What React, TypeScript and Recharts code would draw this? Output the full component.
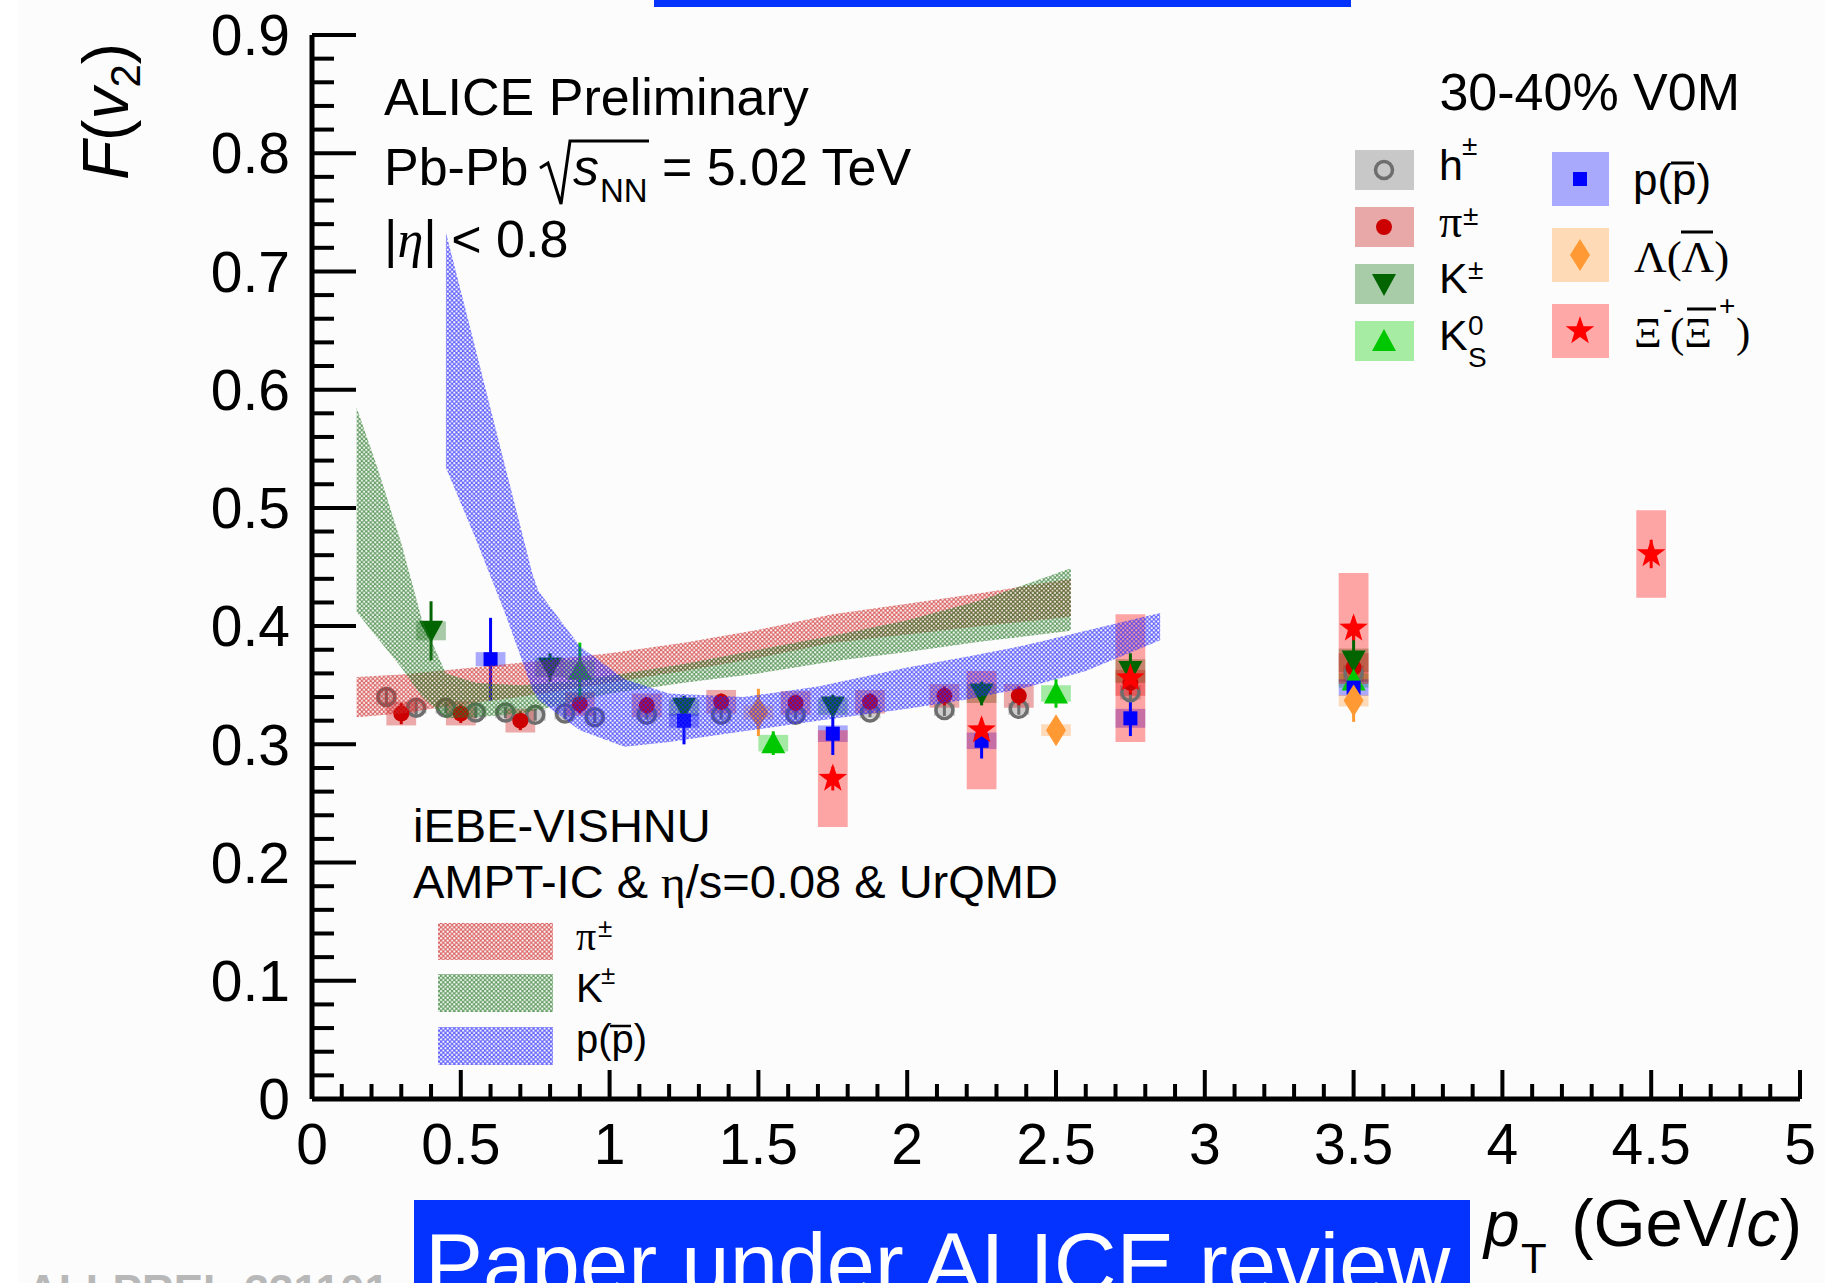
import React from 'react';
import { ComposedChart, Area, Scatter, ErrorBar, XAxis, YAxis, ReferenceArea } from 'recharts';

const W = 1825;
const H = 1283;
const FONT = '"Liberation Sans", Arial, Helvetica, sans-serif';
const SERIF = '"Liberation Serif", "DejaVu Serif", serif';
const BANNER = '#0433ff';

// ---- ALICE Preliminary F(v2) vs pT, 30-40% ----
// h±
const hPt = [0.25, 0.35, 0.45, 0.55, 0.65, 0.75, 0.85, 0.95, 1.125, 1.375, 1.625, 1.875, 2.125, 2.375, 2.75, 3.5];
const hF = [0.340, 0.331, 0.331, 0.327, 0.327, 0.325, 0.326, 0.323, 0.325, 0.325, 0.325, 0.327, 0.329, 0.330, 0.344, 0.360];
const hStat = [0.008, 0.006, 0.005, 0.005, 0.005, 0.005, 0.005, 0.005, 0.004, 0.004, 0.004, 0.004, 0.005, 0.005, 0.006, 0.008];
const hSys = [0.006, 0.005, 0.005, 0.005, 0.005, 0.005, 0.005, 0.005, 0.005, 0.005, 0.005, 0.005, 0.005, 0.005, 0.006, 0.007];

// pi±
const piPt = [0.3, 0.5, 0.7, 0.9, 1.125, 1.375, 1.625, 1.875, 2.125, 2.375, 2.75, 3.5];
const piF = [0.326, 0.326, 0.320, 0.334, 0.333, 0.336, 0.335, 0.336, 0.341, 0.341, 0.352, 0.365];
const piStat = [0.009, 0.008, 0.008, 0.008, 0.007, 0.007, 0.007, 0.007, 0.008, 0.008, 0.01, 0.012];
const piSys = [0.01, 0.01, 0.01, 0.01, 0.01, 0.01, 0.01, 0.01, 0.01, 0.01, 0.011, 0.012];

// K±
const kPt = [0.4, 0.8, 1.25, 1.75, 2.25, 2.75, 3.5];
const kF = [0.396, 0.365, 0.331, 0.332, 0.343, 0.362, 0.371];
const kStat = [0.025, 0.012, 0.01, 0.01, 0.01, 0.015, 0.025];
const kSys = [0.008, 0.008, 0.007, 0.007, 0.008, 0.01, 0.01];

// K0S
const k0Pt = [0.9, 1.55, 2.5, 3.5];
const k0F = [0.363, 0.301, 0.343, 0.354];
const k0Stat = [0.023, 0.01, 0.012, 0.015];
const k0Sys = [0.008, 0.007, 0.007, 0.006];

// p(pbar)
const pPt = [0.6, 1.25, 1.75, 2.25, 2.75, 3.5];
const pF = [0.372, 0.320, 0.309, 0.303, 0.322, 0.348];
const pStat = [0.035, 0.02, 0.018, 0.015, 0.015, 0.01];
const pSys = [0.006, 0.006, 0.007, 0.007, 0.008, 0.007];

// Lambda
const lamPt = [1.5, 2.5, 3.5];
const lamF = [0.327, 0.312, 0.337];
const lamStat = [0.02, 0.01, 0.018];
const lamSys = [0.006, 0.005, 0.005];

// Xi
const xiPt = [1.75, 2.25, 2.75, 3.5, 4.5];
const xiF = [0.271, 0.312, 0.356, 0.398, 0.461];
const xiStat = [0.01, 0.01, 0.012, 0.01, 0.012];
const xiSys = [0.041, 0.05, 0.054, 0.047, 0.037];

// iEBE-VISHNU bands
const bandPiPt = [0.15, 0.3, 0.5, 0.7, 1.0, 1.25, 1.5, 1.75, 2.0, 2.25, 2.55];
const bandPiLow = [0.323, 0.326, 0.334, 0.34, 0.352, 0.362, 0.373, 0.386, 0.393, 0.4, 0.408];
const bandPiHigh = [0.357, 0.359, 0.364, 0.369, 0.377, 0.386, 0.397, 0.41, 0.419, 0.428, 0.44];

const bandKPt = [0.15, 0.22, 0.3, 0.37, 0.45, 0.55, 0.7, 0.85, 1.0, 1.25, 1.5, 1.77, 2.0, 2.25, 2.55];
const bandKLow = [0.412, 0.39, 0.365, 0.34, 0.322, 0.323, 0.326, 0.334, 0.343, 0.352, 0.36, 0.371, 0.378, 0.387, 0.396];
const bandKHigh = [0.585, 0.534, 0.47, 0.405, 0.36, 0.352, 0.35, 0.353, 0.358, 0.368, 0.38, 0.393, 0.405, 0.422, 0.449];

const bandPPt = [0.45, 0.55, 0.65, 0.74, 0.76, 0.9, 1.05, 1.2, 1.45, 1.7, 2.0, 2.2, 2.4, 2.6, 2.85];
const bandPLow = [0.534, 0.474, 0.41, 0.347, 0.338, 0.312, 0.298, 0.302, 0.311, 0.32, 0.33, 0.338, 0.348, 0.362, 0.388];
const bandPHigh = [0.733, 0.634, 0.534, 0.445, 0.43, 0.383, 0.355, 0.343, 0.34, 0.349, 0.365, 0.374, 0.384, 0.396, 0.411];

// axes
const xMajor = [0, 0.5, 1, 1.5, 2, 2.5, 3, 3.5, 4, 4.5, 5];
const xLabels = ['0', '0.5', '1', '1.5', '2', '2.5', '3', '3.5', '4', '4.5', '5'];
const yMajor = [0, 0.1, 0.2, 0.3, 0.4, 0.5, 0.6, 0.7, 0.8, 0.9];
const yLabels = ['0', '0.1', '0.2', '0.3', '0.4', '0.5', '0.6', '0.7', '0.8', '0.9'];
const xTicks = Array.from({ length: 51 }, (_, i) => +(i * 0.1).toFixed(1));
const yTicks = Array.from({ length: 46 }, (_, i) => +(i * 0.02).toFixed(2));

const majorIndex = (list: number[], v: number) => list.findIndex((m) => Math.abs(m - v) < 1e-6);

type Kind = 'open' | 'dot' | 'down' | 'up' | 'square' | 'diamond' | 'star';

function Marker({ kind, cx, cy, color }: { kind: Kind; cx: number; cy: number; color: string }) {
  if (cx == null || cy == null) return null;
  switch (kind) {
    case 'open':
      return <circle cx={cx} cy={cy} r={8.5} fill="none" stroke={color} strokeWidth={3.5} />;
    case 'dot':
      return <circle cx={cx} cy={cy} r={8} fill={color} />;
    case 'down':
      return <polygon points={`${cx - 12},${cy - 10} ${cx + 12},${cy - 10} ${cx},${cy + 12}`} fill={color} />;
    case 'up':
      return <polygon points={`${cx - 12},${cy + 10} ${cx + 12},${cy + 10} ${cx},${cy - 12}`} fill={color} />;
    case 'square':
      return <rect x={cx - 7} y={cy - 7} width={14} height={14} fill={color} />;
    case 'diamond':
      return <polygon points={`${cx},${cy - 16} ${cx + 10},${cy} ${cx},${cy + 16} ${cx - 10},${cy}`} fill={color} />;
    case 'star': {
      const pts: string[] = [];
      for (let i = 0; i < 10; i++) {
        const r = i % 2 === 0 ? 15 : 6;
        const a = -Math.PI / 2 + (i * Math.PI) / 5;
        pts.push(`${cx + r * Math.cos(a)},${cy + r * Math.sin(a)}`);
      }
      return <polygon points={pts.join(' ')} fill={color} />;
    }
  }
  return null;
}

const SPECIES = [
  { key: 'h', pt: hPt, f: hF, stat: hStat, sys: hSys, kind: 'open' as Kind, color: '#6e6e6e', box: '#9c9c9c', boxOp: 0.5, halfW: 0.035 },
  { key: 'pi', pt: piPt, f: piF, stat: piStat, sys: piSys, kind: 'dot' as Kind, color: '#cc0000', box: '#cc0000', boxOp: 0.33, halfW: 0.05 },
  { key: 'k', pt: kPt, f: kF, stat: kStat, sys: kSys, kind: 'down' as Kind, color: '#006400', box: '#006400', boxOp: 0.33, halfW: 0.05 },
  { key: 'k0', pt: k0Pt, f: k0F, stat: k0Stat, sys: k0Sys, kind: 'up' as Kind, color: '#00c800', box: '#00c800', boxOp: 0.35, halfW: 0.05 },
  { key: 'p', pt: pPt, f: pF, stat: pStat, sys: pSys, kind: 'square' as Kind, color: '#0000ff', box: '#0000ff', boxOp: 0.33, halfW: 0.05 },
  { key: 'lam', pt: lamPt, f: lamF, stat: lamStat, sys: lamSys, kind: 'diamond' as Kind, color: '#ff9933', box: '#ff9933', boxOp: 0.33, halfW: 0.05 },
  { key: 'xi', pt: xiPt, f: xiF, stat: xiStat, sys: xiSys, kind: 'star' as Kind, color: '#ff0000', box: '#ff0000', boxOp: 0.35, halfW: 0.05 },
];

const BANDS = [
  { key: 'bandPi', pt: bandPiPt, low: bandPiLow, high: bandPiHigh, fill: 'url(#hatchRed)' },
  { key: 'bandK', pt: bandKPt, low: bandKLow, high: bandKHigh, fill: 'url(#hatchGreen)' },
  { key: 'bandP', pt: bandPPt, low: bandPLow, high: bandPHigh, fill: 'url(#hatchBlue)' },
];

const HATCH = 4.4;
const holePath = (() => {
  const hole = (cx: number, cy: number, r: number) =>
    `M${cx - r} ${cy}a${r} ${r} 0 1 0 ${2 * r} 0a${r} ${r} 0 1 0 ${-2 * r} 0Z`;
  return `M0 0H${HATCH}V${HATCH}H0Z` + hole(1.1, 1.1, 1.1) + hole(3.3, 3.3, 1.1);
})();

function Patterns() {
  const defs = [
    ['hatchRed', '#d02c2c'],
    ['hatchGreen', '#2a7a2a'],
    ['hatchBlue', '#2828ff'],
  ];
  return (
    <svg width={0} height={0} style={{ position: 'absolute' }}>
      <defs>
        {defs.map(([id, c]) => (
          <pattern key={id} id={id} patternUnits="userSpaceOnUse" width={HATCH} height={HATCH}>
            <path d={holePath} fill={c} fillOpacity={0.72} fillRule="evenodd" />
          </pattern>
        ))}
      </defs>
    </svg>
  );
}

const tickText = { fontFamily: FONT, fontSize: 57, fill: '#000' };

function BottomTick(props: any) {
  const { x, y, payload } = props;
  const mi = majorIndex(xMajor, payload.value);
  return (
    <g>
      <line x1={x} x2={x} y1={y} y2={y - (mi >= 0 ? 29 : 15)} stroke="#000" strokeWidth={4} />
      {mi >= 0 && (
        <text x={x} y={y + 25} dy="0.71em" textAnchor="middle" {...tickText}>
          {xLabels[mi]}
        </text>
      )}
    </g>
  );
}

function TopTick(props: any) {
  const { x, y, payload } = props;
  const mi = majorIndex(xMajor, payload.value);
  return <line x1={x} x2={x} y1={y} y2={y + (mi >= 0 ? 29 : 15)} stroke="#000" strokeWidth={4} />;
}

function LeftTick(props: any) {
  const { x, y, payload } = props;
  const mi = majorIndex(yMajor, payload.value);
  return (
    <g>
      <line x1={x} x2={x + (mi >= 0 ? 44 : 22)} y1={y} y2={y} stroke="#000" strokeWidth={4} />
      {mi >= 0 && (
        <text x={x - 22} y={y} dy="0.355em" textAnchor="end" {...tickText}>
          {yLabels[mi]}
        </text>
      )}
    </g>
  );
}

function RightTick(props: any) {
  const { x, y, payload } = props;
  const mi = majorIndex(yMajor, payload.value);
  return <line x1={x} x2={x - (mi >= 0 ? 44 : 22)} y1={y} y2={y} stroke="#000" strokeWidth={4} />;
}

const axisLine = { stroke: '#000', strokeWidth: 5 };

function Overlay() {
  const t = { fontFamily: FONT, fill: '#000' };
  const legL = [
    { kind: 'open' as Kind, color: '#6e6e6e', box: '#c8c8c8', cy: 170 },
    { kind: 'dot' as Kind, color: '#cc0000', box: '#e9a8a8', cy: 227 },
    { kind: 'down' as Kind, color: '#006400', box: '#a8cba8', cy: 284 },
    { kind: 'up' as Kind, color: '#00c800', box: '#a6eca2', cy: 341 },
  ];
  const legR = [
    { kind: 'square' as Kind, color: '#0000ff', box: '#a8a8fd', cy: 179 },
    { kind: 'diamond' as Kind, color: '#ff9933', box: '#fedbb6', cy: 255 },
    { kind: 'star' as Kind, color: '#ff0000', box: '#fea8a8', cy: 331 },
  ];
  return (
    <svg width={W} height={H} style={{ position: 'absolute', left: 0, top: 0, pointerEvents: 'none' }}>
      {/* banners */}
      <rect x={654} y={0} width={697} height={7} fill={BANNER} />
      <rect x={414} y={1200} width={1056} height={90} fill={BANNER} />
      <text x={425} y={1294} fontFamily={FONT} fontSize={87} fill="#fff">Paper under ALICE review</text>
      <text x={27} y={1306} fontFamily={FONT} fontSize={44} fontWeight="bold" fill="#b8b8b8">ALI-PREL-331101</text>

      {/* axis titles */}
      <text transform="translate(128,180) rotate(-90)" {...t} fontSize={64}>
        <tspan fontStyle="italic">F</tspan>
        <tspan>(</tspan>
        <tspan fontStyle="italic">v</tspan>
        <tspan fontSize={42} dy={12}>2</tspan>
        <tspan dy={-12}>)</tspan>
      </text>
      <text x={1484} y={1246} {...t} fontSize={64} fontStyle="italic">p</text>
      <text x={1521} y={1273} {...t} fontSize={42}>T</text>
      <text x={1802} y={1246} {...t} fontSize={67} textAnchor="end">
        (GeV/<tspan fontStyle="italic">c</tspan>)
      </text>

      {/* header texts */}
      <text x={384} y={115} {...t} fontSize={52}>ALICE Preliminary</text>
      <text x={384} y={185} {...t} fontSize={52}>Pb-Pb</text>
      <path d="M540 168 L548 163 L561 204 L570 141 L649 141" fill="none" stroke="#000" strokeWidth={3} />
      <text x={573} y={185} {...t} fontSize={52} fontStyle="italic">s</text>
      <text x={600} y={202} {...t} fontSize={33}>NN</text>
      <text x={662} y={185} {...t} fontSize={52}>= 5.02 TeV</text>
      <text x={384} y={257} {...t} fontSize={52}>
        |<tspan fontFamily={SERIF} fontStyle="italic">η</tspan>| &lt; 0.8
      </text>
      <text x={1740} y={110} {...t} fontSize={52} textAnchor="end">30-40% V0M</text>

      {/* data legend */}
      {legL.map((l, i) => (
        <g key={'l' + i}>
          <rect x={1355} y={l.cy - 20} width={59} height={40} fill={l.box} />
          <Marker kind={l.kind} cx={1384} cy={l.cy} color={l.color} />
        </g>
      ))}
      {legR.map((l, i) => (
        <g key={'r' + i}>
          <rect x={1552} y={l.cy - 27} width={57} height={54} fill={l.box} />
          <Marker kind={l.kind} cx={1580} cy={l.cy} color={l.color} />
        </g>
      ))}
      <text x={1439} y={180} {...t} fontSize={43}>h</text>
      <text x={1462} y={155} {...t} fontSize={28}>±</text>
      <text x={1439} y={237} {...t} fontFamily={SERIF} fontSize={46}>π</text>
      <text x={1463} y={225} {...t} fontSize={28}>±</text>
      <text x={1439} y={293} {...t} fontSize={43}>K</text>
      <text x={1468} y={279} {...t} fontSize={28}>±</text>
      <text x={1439} y={350} {...t} fontSize={43}>K</text>
      <text x={1468} y={335} {...t} fontSize={28}>0</text>
      <text x={1468} y={367} {...t} fontSize={28}>S</text>

      <text x={1633} y={195} {...t} fontSize={44}>p(p)</text>
      <line x1={1671} x2={1694} y1={163} y2={163} stroke="#000" strokeWidth={3} />
      <text x={1634} y={272} {...t} fontFamily={SERIF} fontSize={45}>Λ(Λ)</text>
      <line x1={1681} x2={1713} y1={232} y2={232} stroke="#000" strokeWidth={3} />
      <text x={1634} y={347} {...t} fontFamily={SERIF} fontSize={43}>Ξ</text>
      <text x={1663} y={318} {...t} fontSize={28}>-</text>
      <text x={1670} y={347} {...t} fontFamily={SERIF} fontSize={43}>(Ξ</text>
      <line x1={1687} x2={1716} y1={309} y2={309} stroke="#000" strokeWidth={3} />
      <text x={1719} y={315} {...t} fontSize={28}>+</text>
      <text x={1736} y={347} {...t} fontFamily={SERIF} fontSize={43}>)</text>

      {/* model legend */}
      <text x={413} y={842} {...t} fontSize={47}>iEBE-VISHNU</text>
      <text x={413} y={898} {...t} fontSize={47}>
        AMPT-IC &amp; <tspan fontFamily={SERIF}>η</tspan>/s=0.08 &amp; UrQMD
      </text>
      <rect x={438} y={923} width={115} height={37} fill="url(#hatchRed)" />
      <rect x={438} y={974} width={115} height={38} fill="url(#hatchGreen)" />
      <rect x={438} y={1027} width={115} height={38} fill="url(#hatchBlue)" />
      <text x={576} y={950} {...t} fontFamily={SERIF} fontSize={40}>π</text>
      <text x={598} y={937} {...t} fontSize={26}>±</text>
      <text x={576} y={1002} {...t} fontSize={40}>K</text>
      <text x={601} y={984} {...t} fontSize={26}>±</text>
      <text x={576} y={1053} {...t} fontSize={40}>p(p)</text>
      <line x1={610} x2={631} y1={1026} y2={1026} stroke="#000" strokeWidth={2.5} />
    </svg>
  );
}

export default function App() {
  return (
    <div style={{ position: 'absolute', left: 0, top: 0, width: W, height: H, background: '#fcfcfc', overflow: 'hidden' }}>
      <div style={{ position: 'absolute', left: 0, top: 0, width: 18, height: H, background: '#ffffff' }} />
      <Patterns />
      <div style={{ position: 'absolute', left: 0, top: 0 }}>
        <ComposedChart width={W} height={H} margin={{ top: 35, right: 25, bottom: 124, left: 0 }}>
          <XAxis
            type="number"
            dataKey="x"
            domain={[0, 5]}
            allowDataOverflow
            ticks={xTicks}
            interval={0}
            tickLine={false}
            tickSize={0}
            tickMargin={0}
            axisLine={axisLine}
            height={60}
            tick={(p: any) => <BottomTick {...p} />}
          />
          <XAxis
            xAxisId="top"
            orientation="top"
            type="number"
            dataKey="x"
            domain={[0, 5]}
            allowDataOverflow
            ticks={xTicks}
            interval={0}
            tickLine={false}
            tickSize={0}
            tickMargin={0}
            axisLine={axisLine}
            height={0}
            tick={(p: any) => <TopTick {...p} />}
          />
          <YAxis
            type="number"
            domain={[0, 0.9]}
            allowDataOverflow
            ticks={yTicks}
            interval={0}
            tickLine={false}
            tickSize={0}
            tickMargin={0}
            axisLine={axisLine}
            width={312}
            tick={(p: any) => <LeftTick {...p} />}
          />
          <YAxis
            yAxisId="right"
            orientation="right"
            type="number"
            domain={[0, 0.9]}
            allowDataOverflow
            ticks={yTicks}
            interval={0}
            tickLine={false}
            tickSize={0}
            tickMargin={0}
            axisLine={axisLine}
            width={0}
            tick={(p: any) => <RightTick {...p} />}
          />

          {SPECIES.map((s) =>
            s.pt.map((x, i) => (
              <ReferenceArea
                key={`${s.key}-box-${i}`}
                x1={x - s.halfW}
                x2={x + s.halfW}
                y1={s.f[i] - s.sys[i]}
                y2={s.f[i] + s.sys[i]}
                fill={s.box}
                fillOpacity={s.boxOp}
                stroke="none"
                ifOverflow="visible"
              />
            ))
          )}

          {SPECIES.map((s) => (
            <Scatter
              key={s.key}
              data={s.pt.map((x, i) => ({ x, y: s.f[i], err: s.stat[i] }))}
              dataKey="y"
              isAnimationActive={false}
              shape={(p: any) => <Marker kind={s.kind} cx={p.cx} cy={p.cy} color={s.color} />}
            >
              <ErrorBar dataKey="err" direction="y" width={0} stroke={s.color} strokeWidth={3} />
            </Scatter>
          ))}

          {BANDS.map((b) => (
            <Area
              key={b.key}
              data={b.pt.map((x, i) => ({ x, band: [b.low[i], b.high[i]] }))}
              dataKey="band"
              type="linear"
              stroke="none"
              fill={b.fill}
              fillOpacity={1}
              dot={false}
              activeDot={false}
              isAnimationActive={false}
              zIndex={700}
            />
          ))}
        </ComposedChart>
      </div>
      <Overlay />
    </div>
  );
}
